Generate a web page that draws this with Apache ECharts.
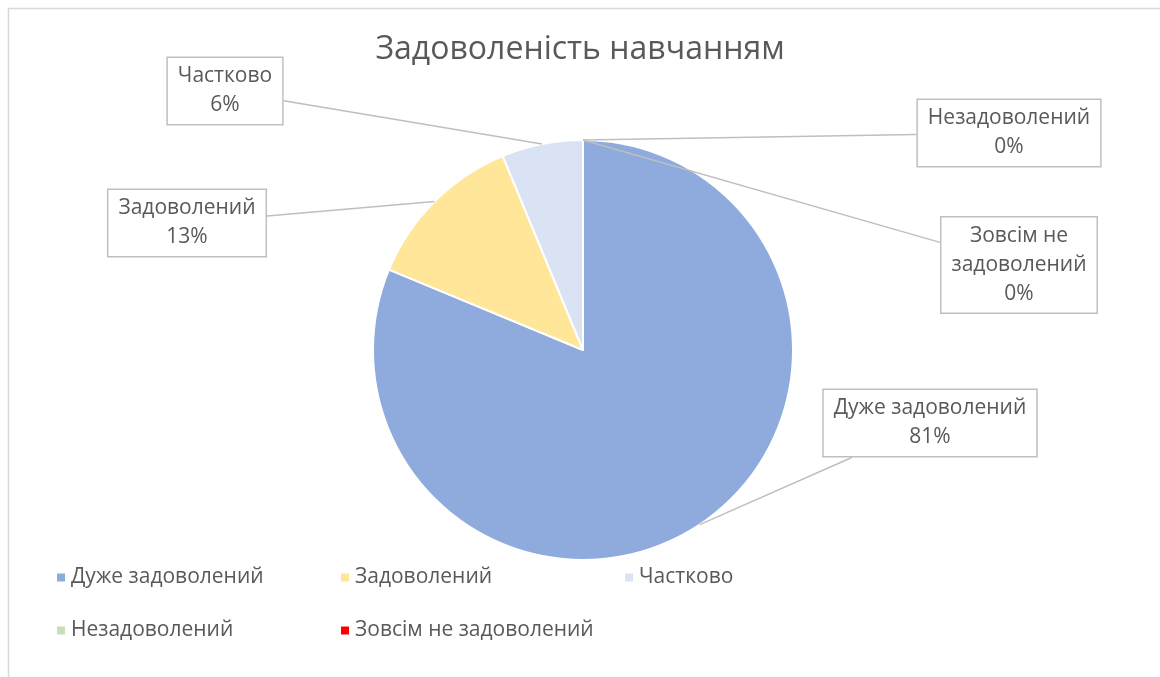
<!DOCTYPE html>
<html>
<head>
<meta charset="utf-8">
<script src="https://cdn.jsdelivr.net/npm/echarts@6/dist/echarts.min.js"></script>
<style>
html,body{margin:0;padding:0;background:#fff;}
#chart{width:1160px;height:677px;}
</style>
</head>
<body>
<div id="chart"></div>
<script>
// ---- data ----
const titleText = 'Задоволеність навчанням';
const categories = ['Дуже задоволений', 'Задоволений', 'Частково', 'Незадоволений', 'Зовсім не задоволений'];
const labelNames = ['Дуже задоволений', 'Задоволений', 'Частково', 'Незадоволений', 'Зовсім не\nзадоволений'];
const counts = [26, 4, 2, 0, 0];
const colors = ['#8faadc', '#ffe699', '#dae3f3', '#c5e0b4', '#ff0000'];

// ---- layout (label box centres) ----
const labelCentres = [[930, 423], [187, 223], [225, 91], [1009, 133], [1019, 265]];

const font = 'Open Sans';
const chart = echarts.init(document.getElementById('chart'));

const pieData = categories.map((c, i) => ({ name: c, value: counts[i], itemStyle: { color: colors[i] } }));
const labelData = categories.map((c, i) => ({ name: c, value: counts[i] }));

function sectorTip(idx, fallback) {
  try {
    const l = chart.getModel().getSeriesByIndex(1).getData().getItemLayout(idx);
    const mid = (l.startAngle + l.endAngle) / 2;
    return [l.cx + l.r * Math.cos(mid), l.cy + l.r * Math.sin(mid)];
  } catch (e) {
    return fallback;
  }
}

const pieCommon = {
  type: 'pie',
  center: [583, 350],
  radius: 210,
  startAngle: 90,
  clockwise: true,
  avoidLabelOverlap: false,
  percentPrecision: 0
};

chart.setOption({
  backgroundColor: '#fff',
  animation: false,
  graphic: [{
    type: 'rect', z: -10, silent: true,
    shape: { x: 8.5, y: 8.5, width: 1200, height: 720 },
    style: { fill: 'none', stroke: '#d9d9d9', lineWidth: 1.5 }
  }],
  title: {
    text: titleText,
    left: 'center', top: 29,
    textStyle: { fontFamily: font, fontSize: 32, fontWeight: 'normal', color: '#595959' }
  },
  legend: {
    left: 50, top: 556, width: 900,
    orient: 'horizontal',
    itemWidth: 10, itemHeight: 10, itemGap: 20, itemTextGap: 8,
    icon: 'rect',
    data: categories,
    textStyle: { fontFamily: font, fontSize: 21, color: '#595959', width: 248, lineHeight: 33 }
  },
  series: [
    Object.assign({}, pieCommon, {
      name: 'pie', z: 2,
      itemStyle: { borderColor: '#fff', borderWidth: 2 },
      label: { show: false },
      labelLine: { show: false },
      data: pieData
    }),
    Object.assign({}, pieCommon, {
      name: 'labels', z: 5, silent: true,
      itemStyle: { color: 'rgba(0,0,0,0)', borderWidth: 0 },
      label: {
        show: true,
        formatter: p => labelNames[p.dataIndex] + '\n' + p.percent + '%',
        fontFamily: font, fontSize: 21, color: '#595959',
        lineHeight: 29, align: 'center',
        backgroundColor: '#fff', borderColor: '#bfbfbf', borderWidth: 1.5,
        padding: [4, 10]
      },
      labelLine: {
        show: true, length: 5, length2: 5, smooth: false,
        lineStyle: { color: '#bfbfbf', width: 1.5 }
      },
      labelLayout: function (p) {
        const c = labelCentres[p.dataIndex];
        const w = p.labelRect.width, h = p.labelRect.height;
        const tip = sectorTip(p.dataIndex, p.labelLinePoints ? p.labelLinePoints[0] : [c[0], c[1]]);
        const dx = tip[0] - c[0], dy = tip[1] - c[1];
        const tx = dx !== 0 ? (w / 2) / Math.abs(dx) : Infinity;
        const ty = dy !== 0 ? (h / 2) / Math.abs(dy) : Infinity;
        const t = Math.min(tx, ty);
        const e = [c[0] + dx * t, c[1] + dy * t];
        return {
          x: c[0], y: c[1], align: 'center', verticalAlign: 'middle',
          labelLinePoints: [tip, e, e]
        };
      },
      data: labelData
    })
  ]
});
</script>
</body>
</html>
